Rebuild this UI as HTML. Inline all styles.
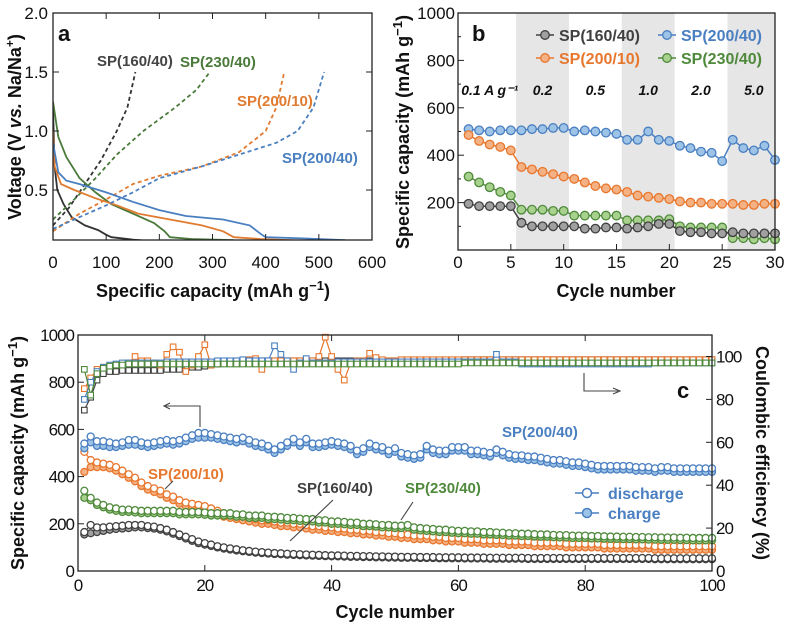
<!DOCTYPE html>
<html><head><meta charset="utf-8"><style>
html,body{margin:0;padding:0;background:#fff;}
svg{display:block;font-family:"Liberation Sans",sans-serif;}
.t{font-size:17px;fill:#111;}
.ti{font-size:18px;font-weight:bold;fill:#111;}
</style></head><body>
<svg id="fig" width="787" height="624" viewBox="0 0 787 624" xmlns="http://www.w3.org/2000/svg">
<g id="pa"></g>
<g id="pb"></g>
<g id="pc"></g>
</svg>
<script>
// ---------- Panel a data ----------
const aXTicks=[0,100,200,300,400,500,600];
const aYTicks=[0.5,1.0,1.5,2.0];
const aGrayDis=[[0,1.2],[3,0.7],[8,0.5],[20,0.38],[35,0.27],[60,0.2],[85,0.16],[100,0.12],[110,0.1],[150,0.08],[190,0.065]];
const aGrayChg=[[0,0.2],[30,0.35],[60,0.55],[90,0.75],[120,1.0],[140,1.2],[155,1.5]];
const aGreenDis=[[0,1.25],[10,0.95],[25,0.78],[50,0.6],[80,0.48],[110,0.38],[150,0.3],[190,0.22],[210,0.15],[220,0.1],[260,0.085],[340,0.075]];
const aGreenChg=[[0,0.25],[40,0.42],[80,0.6],[120,0.8],[170,1.0],[230,1.2],[270,1.35],[295,1.5]];
const aOrangeDis=[[0,1.0],[3,0.7],[15,0.55],[40,0.5],[80,0.43],[120,0.37],[160,0.3],[220,0.25],[280,0.2],[320,0.15],[340,0.1],[390,0.085],[470,0.07]];
const aOrangeChg=[[0,0.15],[50,0.3],[100,0.42],[150,0.55],[200,0.62],[280,0.7],[350,0.82],[400,1.0],[420,1.2],[430,1.4],[435,1.5]];
const aBlueDis=[[0,0.9],[10,0.65],[25,0.58],[50,0.55],[100,0.48],[150,0.4],[200,0.33],[250,0.28],[320,0.25],[370,0.2],[390,0.13],[400,0.1],[470,0.09],[550,0.075]];
const aBlueChg=[[0,0.17],[50,0.27],[100,0.37],[150,0.48],[200,0.6],[280,0.7],[350,0.8],[420,0.9],[460,1.0],[490,1.2],[510,1.5]];
// ---------- Panel b data ----------
const bXTicks=[0,5,10,15,20,25,30];
const bYTicks=[200,400,600,800,1000];
const bBands=[[5.5,10.5],[15.5,20.5],[25.5,30]];
const bRates=["0.1 A g\u207B\u00B9","0.2","0.5","1.0","2.0","5.0"];
const bRatePos=[3,8,13,18,23,28];
const bBlue=[510,505,500,505,505,505,510,510,515,515,500,505,500,495,490,465,465,500,465,460,440,430,415,410,375,465,430,420,440,380];
const bOrange=[485,460,445,435,420,350,340,330,320,310,300,285,270,260,255,245,230,225,220,215,205,200,200,195,195,195,190,190,195,195];
const bGreen=[310,285,265,245,230,170,170,170,165,165,145,145,145,145,145,125,125,125,125,130,100,95,95,95,95,50,50,45,50,45];
const bGray=[195,185,185,185,185,115,100,100,100,100,100,90,90,95,95,90,95,100,110,110,80,75,75,70,70,75,70,70,70,70];
// ---------- Panel c data ----------
const cXTicks=[0,20,40,60,80,100];
const cYTicks=[0,200,400,600,800,1000];
const cRTicks=[0,20,40,60,80,100];
const cBlueDis=[540,570,550,550,545,540,545,555,555,545,540,545,550,555,550,555,565,575,585,585,580,575,570,565,560,565,555,545,540,530,515,530,545,560,545,560,540,540,545,550,545,540,530,510,520,540,530,525,510,520,500,495,490,495,530,515,510,510,525,525,525,510,510,505,500,515,505,495,490,490,485,485,480,475,470,470,465,460,460,455,450,445,445,445,445,445,445,440,440,440,435,440,440,435,435,435,435,435,435,435];
const cBlueChg=[520,545,530,530,525,525,530,535,535,530,525,530,535,540,535,540,550,560,565,565,565,560,555,550,545,550,540,530,525,515,500,515,530,545,530,545,525,525,530,535,530,525,515,495,505,525,515,510,495,505,485,480,475,480,515,500,495,495,510,510,510,495,495,490,485,500,490,480,475,475,470,470,465,460,455,455,450,445,445,440,435,430,430,430,430,430,430,425,425,425,420,425,425,420,420,420,420,420,420,420];
const cOrangeDis=[505,470,460,455,450,440,425,410,395,375,360,350,340,325,315,300,290,285,280,275,265,255,245,240,235,230,225,220,215,215,210,205,205,200,200,195,190,190,185,185,180,180,175,175,170,170,165,165,160,160,155,155,150,150,150,145,145,140,140,140,135,135,135,130,130,130,130,125,125,125,125,120,120,120,120,120,115,115,115,115,115,115,110,110,110,110,110,110,110,110,105,105,105,105,105,105,105,105,105,105];
const cOrangeChg=[420,440,440,440,435,425,410,395,380,360,345,335,325,310,300,285,275,270,265,260,250,240,230,225,220,215,210,205,200,200,195,190,190,185,185,180,175,175,170,170,165,165,160,160,155,155,150,150,145,145,140,140,135,135,135,130,130,125,125,125,120,120,120,115,115,115,115,110,110,110,110,105,105,105,105,105,100,100,100,100,100,100,95,95,95,95,95,95,95,95,90,90,90,90,90,90,90,90,90,90];
const cGreenDis=[340,310,290,280,270,265,260,260,258,255,255,255,255,255,255,250,250,250,250,248,245,245,245,245,240,240,235,235,235,230,230,228,225,225,222,220,220,215,215,210,210,208,205,205,200,200,198,195,195,192,192,195,185,182,180,178,175,175,172,170,170,168,168,165,165,163,162,160,160,158,158,156,155,155,153,152,152,150,150,150,148,148,147,146,146,145,145,144,144,143,143,142,142,142,141,141,140,140,140,140];
const cGreenChg=[310,300,280,270,260,255,250,250,248,245,245,245,245,245,245,240,240,240,240,238,235,235,235,235,230,230,225,225,225,220,220,218,215,215,212,210,210,205,205,200,200,198,195,195,190,190,188,185,185,182,182,185,175,172,170,168,165,165,162,160,160,158,158,155,155,153,152,150,150,148,148,146,145,145,143,142,142,140,140,140,138,138,137,136,136,135,135,134,134,133,133,132,132,132,131,131,130,130,130,130];
const cGrayDis=[165,195,185,185,188,190,192,195,195,195,190,188,182,175,165,155,145,135,125,118,112,105,100,96,92,88,85,82,80,78,76,75,73,72,71,70,69,68,67,66,66,65,64,64,63,63,62,62,61,61,60,60,60,59,59,59,58,58,58,58,57,57,57,57,56,56,56,56,56,56,55,55,55,55,55,55,55,55,55,55,55,55,55,55,55,55,55,55,55,55,54,54,54,54,54,54,54,54,54,54];
const cGrayChg=[155,160,165,170,175,178,180,182,185,185,182,180,175,168,158,148,138,128,118,112,106,100,95,91,87,84,81,78,76,74,72,71,69,68,67,66,65,64,63,62,62,61,60,60,59,59,58,58,57,57,56,56,56,55,55,55,54,54,54,54,53,53,53,53,52,52,52,52,52,52,51,51,51,51,51,51,51,51,51,51,51,51,51,51,51,51,51,51,51,51,50,50,50,50,50,50,50,50,50,50];
const cGrayCE=[75,81,89,92,93,93,93.5,93.5,93.5,93.5,93.5,93.5,93.5,94,94,94,94.5,95,95,95.5,96,96.5,97,97.5,97.5,98,98,98,98,98,98,98,98,98,98,98,98,98,98,98,98,98,98,98,98,98,98,98,98,98,98,98,98,98,98,98,98,98,98,98,98.5,98.5,98.5,98.5,98.5,98.5,98.5,98.5,98.5,98.5,98.5,98.5,98.5,98.5,98.5,98.5,98.5,98.5,98.5,98.5,98.5,98.5,98.5,98.5,98.5,98.5,98.5,98.5,98.5,98.5,98.5,98.5,98.5,98.5,98.5,98.5,98.5,98.5,98.5,98.5];
const cOrangeCE=[85,90,94,95,95.5,96,96.5,97,100,98,98,97,96,101,104.5,102,93,96,100,105.5,96,97,97,97.5,98,98,98.5,99,94,98,98,98,98,98,98,98,98,100,109,100,94,89,97,98,98,101.5,99.5,98.5,98,98,98.5,98.5,98.5,98.5,98.5,98.5,98.5,98.5,98.5,98.5,98.5,98.5,98.5,98.5,98.5,98.5,98.5,98.5,98.5,98.5,98.5,98.5,98.5,98.5,98.5,98.5,98.5,98.5,98.5,98.5,98.5,98.5,98.5,98.5,98.5,98.5,98.5,98.5,98.5,98.5,98.5,98.5,98.5,98.5,98.5,98.5,98.5,98.5,98.5,98.5];
const cBlueCE=[80,88,93,95,96,96.5,97,97,97,97,97,97,97,97.5,97.5,97.5,97.5,97.5,97.5,97.5,97.5,98,98,98,98,98.5,98,98,98,98,105,101,98,94,97,99,97,97,97,97,97.5,97.5,97.5,97.5,97.5,97.5,97.5,97.5,97.5,97.5,97.5,97.5,97.5,97.5,97.5,97.5,97.5,97.5,97.5,97.5,97.5,97.5,97.5,97.5,97.5,101,97.5,97.5,97.5,96.5,96.5,96.5,96.5,96.5,96.5,96.5,96.5,96.5,96.5,96.5,96.5,96.5,96.5,96.5,96.5,96.5,96.5,96.5,96.5,96.5,97,97,97,97,97,97,97,97,97,97];
const cGreenCE=[94,82,92,94.5,95.5,96,96,96.5,96.5,96.5,96.5,96.5,96.5,96.5,96.5,96.5,96.5,96.5,96.5,96.5,96.5,96.5,96.5,96.5,96.5,96.5,96.5,96.5,96.5,96.5,96.5,96.5,96.5,96.5,96.5,96.5,96.5,96.5,96.5,96.5,96.5,96.5,96.5,96.5,96.5,96.5,96.5,96.5,96.5,96.5,96.5,96.5,96.5,96.5,96.5,96.5,96.5,96.5,96.5,96.5,97,97,97,97,97,97,97,97,97,97,97,97,97,97,97,97,97,97,97,97,97,97,97,97,97,97,97,97,97,97,97,97,97,97,97,97,97,97,97,97];

const NS="http://www.w3.org/2000/svg";
function mk(tag,attrs,parent,txt){const e=document.createElementNS(NS,tag);for(const k in attrs)e.setAttribute(k,attrs[k]);if(txt!==undefined)e.textContent=txt;parent.appendChild(e);return e;}
const COL={gray:"#404040",orange:"#e8772e",blue:"#4a7fc1",green:"#4f8a3c"};
const FILL={gray:"#a0a0a0",orange:"#f4b183",blue:"#9dc3e6",green:"#a9d18e"};

// ================= Panel a =================
const pa=document.getElementById('pa');
const ax=v=>53+v/600*319, ay=v=>249-v*118;
mk('clipPath',{id:'clipA'},pa);
mk('rect',{x:53,y:13,width:319,height:227},document.getElementById('clipA'));
function lineA(pts,c,dash,name){
  const d=pts.map((p,i)=>(i?'L':'M')+ax(p[0]).toFixed(1)+' '+ay(p[1]).toFixed(1)).join(' ');
  const e=mk('path',{d:d,fill:'none',stroke:c,'stroke-width':1.8,'stroke-dasharray':dash?'4 3':'none','clip-path':'url(#clipA)'},pa);
  
  
}
lineA(aGrayDis,"#333",false,'a-sp160-discharge');
lineA(aGrayChg,"#333",true,'a-sp160-charge');
lineA(aGreenDis,"#4a7a3a",false,'a-sp230-discharge');
lineA(aGreenChg,"#4a7a3a",true,'a-sp230-charge');
lineA(aOrangeDis,"#e07b30",false,'a-sp200-10-discharge');
lineA(aOrangeChg,"#e07b30",true,'a-sp200-10-charge');
lineA(aBlueDis,"#4a7fc0",false,'a-sp200-40-discharge');
lineA(aBlueChg,"#4a7fc0",true,'a-sp200-40-charge');
{const r=mk('rect',{x:53,y:13,width:319,height:227,fill:'none',stroke:'#222','stroke-width':1.3},pa);
}
aXTicks.forEach(v=>{
  mk('line',{x1:ax(v),x2:ax(v),y1:240,y2:234,stroke:'#222'},pa);
  mk('line',{x1:ax(v),x2:ax(v),y1:13,y2:19,stroke:'#222'},pa);
  const t=mk('text',{x:ax(v),y:268,'text-anchor':'middle',class:'t'},pa,String(v));
  
});
aYTicks.forEach(v=>{
  mk('line',{x1:53,x2:59,y1:ay(v),y2:ay(v),stroke:'#222'},pa);
  mk('line',{x1:372,x2:366,y1:ay(v),y2:ay(v),stroke:'#222'},pa);
  const t=mk('text',{x:48,y:ay(v)+6,'text-anchor':'end',class:'t'},pa,v.toFixed(1));
  
});

// ================= Panel b =================
const pb=document.getElementById('pb');
const bx=v=>458+v/30*317, by=v=>250-v*0.237;
bBands.forEach(b=>{const r=mk('rect',{x:bx(b[0]),y:13,width:bx(b[1])-bx(b[0]),height:237,fill:'#e6e6e6'},pb);
});
bRates.forEach((s,i)=>{const t=mk('text',{x:bx(bRatePos[i]),y:by(655),'text-anchor':'middle','font-size':14,'font-weight':'bold','font-style':'italic',fill:'#111'},pb,s);
});
function seriesB(vals,c,name){
  const d=vals.map((v,i)=>(i?'L':'M')+bx(i+1).toFixed(1)+' '+by(v).toFixed(1)).join(' ');
  const l=mk('path',{d:d,fill:'none',stroke:COL[c],'stroke-width':1.5},pb);
  
  vals.forEach((v,i)=>{const m=mk('circle',{cx:bx(i+1),cy:by(v),r:4.3,fill:FILL[c],stroke:COL[c],'stroke-width':1.3},pb);
  });
}
seriesB(bBlue,'blue','b-sp200-40');
seriesB(bOrange,'orange','b-sp200-10');
seriesB(bGreen,'green','b-sp230-40');
seriesB(bGray,'gray','b-sp160-40');
mk('rect',{x:458,y:13,width:317,height:237,fill:'none',stroke:'#222','stroke-width':1.3},pb);
bXTicks.forEach(v=>{mk('line',{x1:bx(v),x2:bx(v),y1:250,y2:244,stroke:'#222'},pb);
  const t=mk('text',{x:bx(v),y:268,'text-anchor':'middle',class:'t'},pb,String(v));
  });
bYTicks.forEach(v=>{mk('line',{x1:458,x2:464,y1:by(v),y2:by(v),stroke:'#222'},pb);
  mk('line',{x1:458,x2:461,y1:by(v-100),y2:by(v-100),stroke:'#222'},pb);
  const t=mk('text',{x:455,y:by(v)+6,'text-anchor':'end',class:'t'},pb,String(v));
  });
[['SP(160/40)','gray',545,35],['SP(200/40)','blue',667,35],['SP(200/10)','orange',545,58],['SP(230/40)','green',667,58]].forEach(L=>{
  mk('line',{x1:L[2]-9,x2:L[2]+9,y1:L[3],y2:L[3],stroke:COL[L[1]],'stroke-width':1.5},pb);
  mk('circle',{cx:L[2],cy:L[3],r:4.3,fill:FILL[L[1]],stroke:COL[L[1]],'stroke-width':1.3},pb);
  const t=mk('text',{x:L[2]+14,y:L[3]+6,'font-size':16,'font-weight':'bold',fill:COL[L[1]]},pb,L[0]);
  
});

// ================= Panel c =================
const pc=document.getElementById('pc');
const cx=v=>78+v/100*634, cy=v=>571-v*0.236, cr=v=>571-v*2.145;
function seriesC(vals,yf,c,shape,filled,name){
  const d=vals.map((v,i)=>(i?'L':'M')+cx(i+1).toFixed(1)+' '+yf(v).toFixed(1)).join(' ');
  const l=mk('path',{d:d,fill:'none',stroke:COL[c],'stroke-width':1.2},pc);
  
  vals.forEach((v,i)=>{let m;
    if(shape==='c') m=mk('circle',{cx:cx(i+1),cy:yf(v),r:3.5,fill:filled?FILL[c]:'#fff',stroke:COL[c],'stroke-width':1.3},pc);
    else m=mk('rect',{x:cx(i+1)-2.8,y:yf(v)-2.8,width:5.6,height:5.6,fill:'#fff',stroke:COL[c],'stroke-width':1.1},pc);
    });
}
seriesC(cGrayChg,cy,'gray','c',true,'c-sp160-charge');
seriesC(cGrayDis,cy,'gray','c',false,'c-sp160-discharge');
seriesC(cOrangeChg,cy,'orange','c',true,'c-sp200-10-charge');
seriesC(cOrangeDis,cy,'orange','c',false,'c-sp200-10-discharge');
seriesC(cGreenChg,cy,'green','c',true,'c-sp230-charge');
seriesC(cGreenDis,cy,'green','c',false,'c-sp230-discharge');
seriesC(cBlueChg,cy,'blue','c',true,'c-sp200-40-charge');
seriesC(cBlueDis,cy,'blue','c',false,'c-sp200-40-discharge');
seriesC(cGrayCE,cr,'gray','s',false,'c-sp160-ce');
seriesC(cOrangeCE,cr,'orange','s',false,'c-sp200-10-ce');
seriesC(cBlueCE,cr,'blue','s',false,'c-sp200-40-ce');
seriesC(cGreenCE,cr,'green','s',false,'c-sp230-ce');
mk('rect',{x:78,y:335,width:634,height:236,fill:'none',stroke:'#222','stroke-width':1.3},pc);
cXTicks.forEach(v=>{mk('line',{x1:cx(v),x2:cx(v),y1:571,y2:565,stroke:'#222'},pc);
  mk('line',{x1:cx(v),x2:cx(v),y1:335,y2:341,stroke:'#222'},pc);
  const t=mk('text',{x:cx(v),y:591,'text-anchor':'middle',class:'t','letter-spacing':'-1'},pc,String(v));
  });
cYTicks.forEach(v=>{mk('line',{x1:78,x2:84,y1:cy(v),y2:cy(v),stroke:'#222'},pc);
  const t=mk('text',{x:74,y:cy(v)+6,'text-anchor':'end',class:'t','letter-spacing':'-1'},pc,String(v));
  });
cRTicks.forEach(v=>{mk('line',{x1:712,x2:706,y1:cr(v),y2:cr(v),stroke:'#222'},pc);
  const t=mk('text',{x:716,y:cr(v)+6,class:'t','letter-spacing':'-1'},pc,String(v));
  });
</script>
<script>
(function(){
const s=document.getElementById('fig');
s.insertAdjacentHTML('beforeend',`
<text x="58" y="41" font-size="22" font-weight="bold" fill="#111">a</text>
<text x="97" y="66" font-size="15" font-weight="bold" fill="#444">SP(160/40)</text>
<text x="180" y="67" font-size="15" font-weight="bold" fill="#4a7a3a">SP(230/40)</text>
<text x="237" y="106" font-size="15" font-weight="bold" fill="#e07b30">SP(200/10)</text>
<text x="282" y="163" font-size="15" font-weight="bold" fill="#4a7fc0">SP(200/40)</text>
<text x="213" y="297" text-anchor="middle" class="ti">Specific capacity (mAh g<tspan font-size="13" dy="-7">−1</tspan><tspan dy="7">)</tspan></text>
<text transform="translate(21,127) rotate(-90)" text-anchor="middle" class="ti">Voltage (V <tspan font-style="italic">vs.</tspan> Na/Na<tspan font-size="12" dy="-7">+</tspan><tspan dy="7">)</tspan></text>
<text x="472" y="41" font-size="22" font-weight="bold" fill="#111">b</text>
<text x="616" y="297" text-anchor="middle" class="ti">Cycle number</text>
<text transform="translate(409,132) rotate(-90)" text-anchor="middle" class="ti">Specific capacity (mAh g<tspan font-size="13" dy="-7">−1</tspan><tspan dy="7">)</tspan></text>
<text x="677" y="398" font-size="22" font-weight="bold" fill="#111">c</text>
<text x="502" y="437" font-size="15" font-weight="bold" fill="#4a7fc1">SP(200/40)</text>
<text x="148" y="479" font-size="15" font-weight="bold" fill="#e8772e">SP(200/10)</text>
<text x="297" y="493" font-size="15" font-weight="bold" fill="#404040">SP(160/40)</text>
<text x="405" y="493" font-size="15" font-weight="bold" fill="#4f8a3c">SP(230/40)</text>
<g stroke="#444" stroke-width="1.1" fill="none">
<path d="M200 427 L200 406 L165 406"/><path d="M170 403 L164 406 L170 409"/>
<path d="M584 373 L584 391 L618 391"/><path d="M613 388 L620 391 L613 394"/>
<path d="M173 481 L165 489"/><path d="M333 500 L290 541"/><path d="M413 502 L401 520"/>
</g>
<g>
<line x1="575" x2="599" y1="493" y2="493" stroke="#4a7fc1" stroke-width="1.5"/><circle cx="587" cy="493" r="4.5" fill="#fff" stroke="#4a7fc1" stroke-width="1.5"/>
<text x="608" y="499" font-size="16" font-weight="bold" fill="#4a7fc1">discharge</text>
<line x1="575" x2="599" y1="513" y2="513" stroke="#4a7fc1" stroke-width="1.5"/><circle cx="587" cy="513" r="4.5" fill="#9dc3e6" stroke="#4a7fc1" stroke-width="1.5"/>
<text x="608" y="519" font-size="16" font-weight="bold" fill="#4a7fc1">charge</text>
</g>
<text x="395" y="618" text-anchor="middle" class="ti">Cycle number</text>
<text transform="translate(24,453) rotate(-90)" text-anchor="middle" class="ti">Specific capacity (mAh g<tspan font-size="13" dy="-7">−1</tspan><tspan dy="7">)</tspan></text>
<text transform="translate(756,453) rotate(90)" text-anchor="middle" class="ti">Coulombic efficiency (%)</text>
`);
})();
</script>
</body></html>
